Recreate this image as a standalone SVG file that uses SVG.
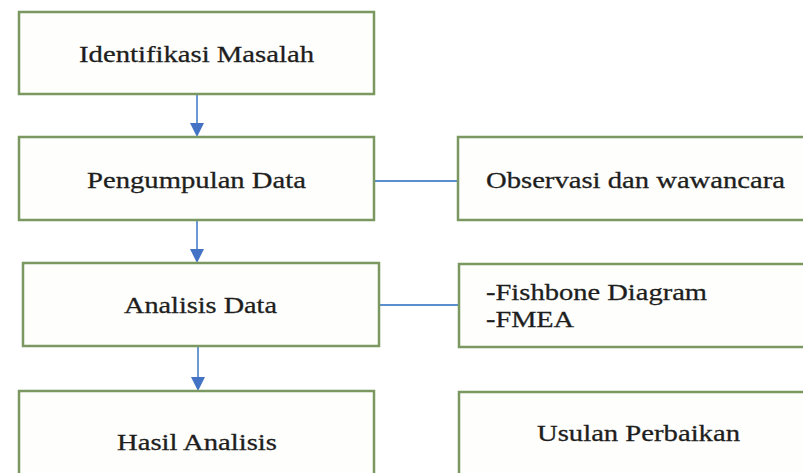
<svg xmlns="http://www.w3.org/2000/svg" width="803" height="473" viewBox="0 0 803 473">
<style>
.box{fill:#fefffc;stroke:#7a9860;stroke-width:2.5}
.t{font-family:"Liberation Serif","Times New Roman",serif;font-size:24px;fill:#1e1e1e;stroke:#1e1e1e;stroke-width:0.3}
.c{stroke:#5b8ecf;stroke-width:1.8;fill:none}
.ah{fill:#4472c4}
</style>
<rect width="803" height="473" fill="#ffffff"/>
<g id="connectors">
<line class="c" x1="197" y1="94" x2="197" y2="124"/><path class="ah" d="M190,123 L204,123 L197,137 Z"/>
<line class="c" x1="197" y1="220" x2="197" y2="250"/><path class="ah" d="M190,249 L204,249 L197,263 Z"/>
<line class="c" x1="198" y1="346" x2="198" y2="378"/><path class="ah" d="M191,377 L205,377 L198,391 Z"/>
<line class="c" x1="374" y1="181" x2="458" y2="181"/>
<line class="c" x1="379" y1="305" x2="459" y2="305"/>
</g>
<g id="n1"><rect class="box" x="19" y="12" width="355" height="82"/><text class="t" x="79" y="62" textLength="235" lengthAdjust="spacingAndGlyphs">Identifikasi Masalah</text></g>
<g id="n2"><rect class="box" x="19" y="137" width="355" height="83"/><text class="t" x="87" y="188" textLength="219" lengthAdjust="spacingAndGlyphs">Pengumpulan Data</text></g>
<g id="n3"><rect class="box" x="23" y="263" width="356" height="83"/><text class="t" x="124" y="313" textLength="153" lengthAdjust="spacingAndGlyphs">Analisis Data</text></g>
<g id="n4"><rect class="box" x="19" y="391" width="355" height="90"/><text class="t" x="117" y="450" textLength="160" lengthAdjust="spacingAndGlyphs">Hasil Analisis</text></g>
<g id="r1"><rect class="box" x="458" y="137" width="360" height="83"/><text class="t" x="486" y="188" textLength="299" lengthAdjust="spacingAndGlyphs">Observasi dan wawancara</text></g>
<g id="r2"><rect class="box" x="459" y="264" width="360" height="83"/><text class="t" x="486" y="300" textLength="221" lengthAdjust="spacingAndGlyphs">-Fishbone Diagram</text><text class="t" x="486" y="327" textLength="88" lengthAdjust="spacingAndGlyphs">-FMEA</text></g>
<g id="r3"><rect class="box" x="459" y="392" width="360" height="90"/><text class="t" x="537" y="441" textLength="203" lengthAdjust="spacingAndGlyphs">Usulan Perbaikan</text></g>
</svg>
